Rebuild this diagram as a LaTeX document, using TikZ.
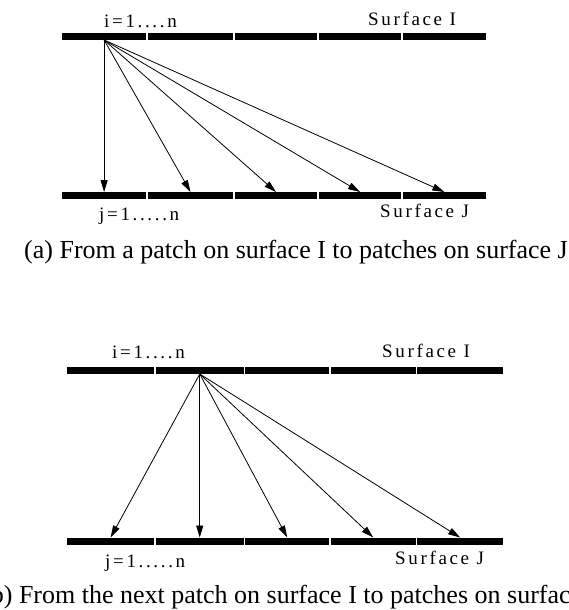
\documentclass[tikz,border=0pt]{standalone}
\usepackage{fontspec}
\setmainfont{Liberation Serif}
\newfontfamily\spacedfont[LetterSpace=14]{Liberation Serif}
\usetikzlibrary{arrows.meta}

\begin{document}
\begin{tikzpicture}[x=1pt,y=-1pt,
  seg/.style={rectangle, fill=black, draw=none, inner sep=0pt, outer sep=0pt,
    minimum height=7pt, anchor=west},
  ray/.style={-{Triangle[length=12pt,width=7pt]}, line width=0.8pt},
  lbl/.style={inner sep=0pt, anchor=base west,
    font=\spacedfont\fontsize{19}{22}\selectfont},
  capt/.style={inner sep=0pt, anchor=base west,
    font=\fontsize{26}{30}\selectfont}]
\useasboundingbox (0,0) rectangle (568,610);

% ---------- (a) ----------
% surface I patches
\node[seg, minimum width=84.25pt] (aI1) at (62,36.5) {};
\node[seg, minimum width=85.5pt]  (aI2) at (147.75,36.5) {};
\node[seg, minimum width=82.5pt]  (aI3) at (234.75,36.5) {};
\node[seg, minimum width=82.5pt]  (aI4) at (318.75,36.5) {};
\node[seg, minimum width=83.25pt] (aI5) at (402.75,36.5) {};
% surface J patches
\node[seg, minimum width=84.25pt] (aJ1) at (62,195.5) {};
\node[seg, minimum width=85.5pt]  (aJ2) at (147.75,195.5) {};
\node[seg, minimum width=82.5pt]  (aJ3) at (234.75,195.5) {};
\node[seg, minimum width=82.5pt]  (aJ4) at (318.75,195.5) {};
\node[seg, minimum width=83.25pt] (aJ5) at (402.75,195.5) {};

\foreach \k in {1,...,5}
  \draw[ray] (aI1.south) -- (aJ\k.north);

\node[lbl] (aIi) at (104,28) {i=1....n};
\node[lbl] (aIs) at (368,26) {Surface I};
\node[lbl] (aJj) at (99,220) {j=1.....n};
\node[lbl] (aJs) at (380,217) {Surface J};
\node[capt] (acap) at (24,258) {(a) From a patch on surface I to patches on surface J};

% ---------- (b) ----------
\node[seg, minimum width=87.25pt] (bI1) at (67,370.5) {};
\node[seg, minimum width=88pt]    (bI2) at (155.75,370.5) {};
\node[seg, minimum width=84pt]    (bI3) at (245.25,370.5) {};
\node[seg, minimum width=85pt]    (bI4) at (330.75,370.5) {};
\node[seg, minimum width=85.75pt] (bI5) at (417.25,370.5) {};
\node[seg, minimum width=87.25pt] (bJ1) at (67,541) {};
\node[seg, minimum width=88pt]    (bJ2) at (155.75,541) {};
\node[seg, minimum width=84pt]    (bJ3) at (245.25,541) {};
\node[seg, minimum width=85pt]    (bJ4) at (330.75,541) {};
\node[seg, minimum width=85.75pt] (bJ5) at (417.25,541) {};

\foreach \k in {1,...,5}
  \draw[ray] (bI2.south) -- (bJ\k.north);

\node[lbl] (bIi) at (112,358) {i=1....n};
\node[lbl] (bIs) at (382,357) {Surface I};
\node[lbl] (bJj) at (105,567) {j=1.....n};
\node[lbl] (bJs) at (395,564) {Surface J};
\node[capt] (bcap) at (-18,603) {(b) From the next patch on surface I to patches on surface J};
\end{tikzpicture}
\end{document}
